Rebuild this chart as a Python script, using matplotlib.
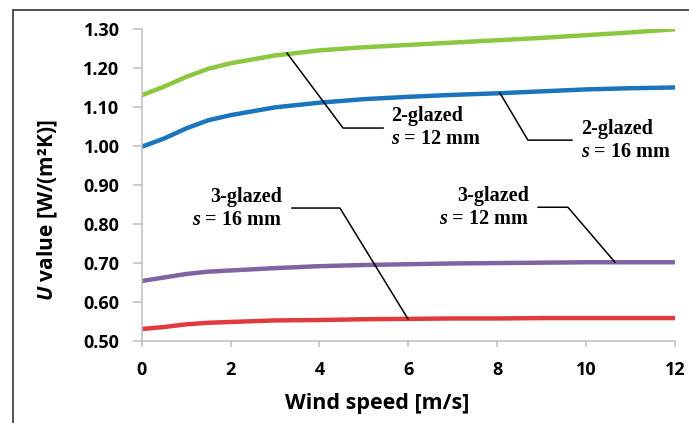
import matplotlib
matplotlib.use("Agg")
import matplotlib.pyplot as plt
from matplotlib.patches import Rectangle

# --- data ---
wind_speed = [0, 0.5, 1, 1.5, 2, 2.5, 3, 4, 5, 6, 7, 8, 9, 10, 11, 12]

u_2g_12 = [1.131, 1.153, 1.178, 1.199, 1.213, 1.223, 1.233, 1.246, 1.254, 1.260, 1.266, 1.272, 1.278, 1.285, 1.292, 1.300]
u_2g_16 = [0.999, 1.020, 1.046, 1.067, 1.080, 1.090, 1.100, 1.112, 1.121, 1.127, 1.132, 1.136, 1.141, 1.146, 1.149, 1.151]
u_3g_12 = [0.655, 0.664, 0.673, 0.679, 0.682, 0.685, 0.688, 0.693, 0.696, 0.698, 0.700, 0.701, 0.702, 0.703, 0.703, 0.703]
u_3g_16 = [0.532, 0.537, 0.544, 0.548, 0.550, 0.552, 0.554, 0.555, 0.557, 0.558, 0.559, 0.559, 0.560, 0.560, 0.560, 0.560]

x_ticks = [0, 2, 4, 6, 8, 10, 12]
y_ticks = [0.50, 0.60, 0.70, 0.80, 0.90, 1.00, 1.10, 1.20, 1.30]

labels = ["2-glazed\n$s$ = 12 mm", "2-glazed\n$s$ = 16 mm",
          "3-glazed\n$s$ = 12 mm", "3-glazed\n$s$ = 16 mm"]

# --- fonts ---
plt.rcParams["mathtext.fontset"] = "custom"
plt.rcParams["mathtext.it"] = "Liberation Serif:italic:bold"
plt.rcParams["mathtext.rm"] = "Liberation Serif:bold"
plt.rcParams["mathtext.sf"] = "Open Sans:italic:bold"

fig = plt.figure(figsize=(6.89, 4.23), dpi=100)
ax = fig.add_axes([0.2057, 0.1927, 0.774, 0.738])

ax.plot(wind_speed, u_2g_12, color="#8dc641", lw=3.2, solid_capstyle="butt")
ax.plot(wind_speed, u_2g_16, color="#1a75bc", lw=3.2, solid_capstyle="butt")
ax.plot(wind_speed, u_3g_12, color="#8064a2", lw=3.2, solid_capstyle="butt")
ax.plot(wind_speed, u_3g_16, color="#e03a3e", lw=3.2, solid_capstyle="butt")

ax.set_xlim(0, 12)
ax.set_ylim(0.5, 1.3)
ax.set_xticks(x_ticks)
ax.set_yticks(y_ticks)
ax.set_xticklabels([str(t) for t in x_ticks])
ax.set_yticklabels([f"{t:.2f}" for t in y_ticks])

for s in ["top", "right"]:
    ax.spines[s].set_visible(False)
for s in ["left", "bottom"]:
    ax.spines[s].set_color("#bfbfbf")
    ax.spines[s].set_linewidth(1.1)

ax.tick_params(axis="y", direction="out", length=6.5, width=1.1, color="#bfbfbf", pad=9.5)
ax.tick_params(axis="x", direction="out", length=4.5, width=1.1, color="#bfbfbf", pad=9.5)
for lab in ax.get_xticklabels() + ax.get_yticklabels():
    lab.set_fontfamily("Open Sans")
    lab.set_fontweight("bold")
    lab.set_fontsize(13)

# axis titles sit a little off-centre in the original
ax.set_xlabel("Wind speed [m/s]", family="Open Sans", weight="bold", fontsize=15.5, labelpad=12.5)
ax.xaxis.set_label_coords(0.441, -0.165)
ax.set_ylabel(r"$\mathsf{U}$ value [W/(m²K)]", family="Open Sans", weight="bold", fontsize=15, labelpad=17)
ax.yaxis.label.set_y(0.421)

# --- leader lines and labels ---
txt = dict(family="Liberation Serif", weight="bold", fontsize=14.5, va="center", linespacing=1.2)

ax.plot([3.27, 4.53, 5.43], [1.239, 1.047, 1.047], color="black", lw=1.1)
ax.text(5.61, 1.048, labels[0], ha="left", **txt)

ax.plot([8.06, 8.69, 9.68], [1.137, 1.016, 1.016], color="black", lw=1.1)
ax.text(9.88, 1.016, labels[1], ha="left", **txt)

ax.plot([8.92, 9.59, 10.65], [0.844, 0.844, 0.703], color="black", lw=1.1)
ax.text(8.72, 0.843, labels[2], ha="right", multialignment="right", **txt)

ax.plot([3.38, 4.46, 5.99], [0.842, 0.842, 0.558], color="black", lw=1.1)
ax.text(3.16, 0.842, labels[3], ha="right", multialignment="right", **txt)

# outer frame (only top and left edges visible in the crop)
fig.patches.append(Rectangle((13 / 689, -0.1), 1.2, 1.1 - 10 / 423,
                             transform=fig.transFigure, fill=False,
                             lw=1.2, ec="#333333"))

fig.savefig("out.png", dpi=100)
